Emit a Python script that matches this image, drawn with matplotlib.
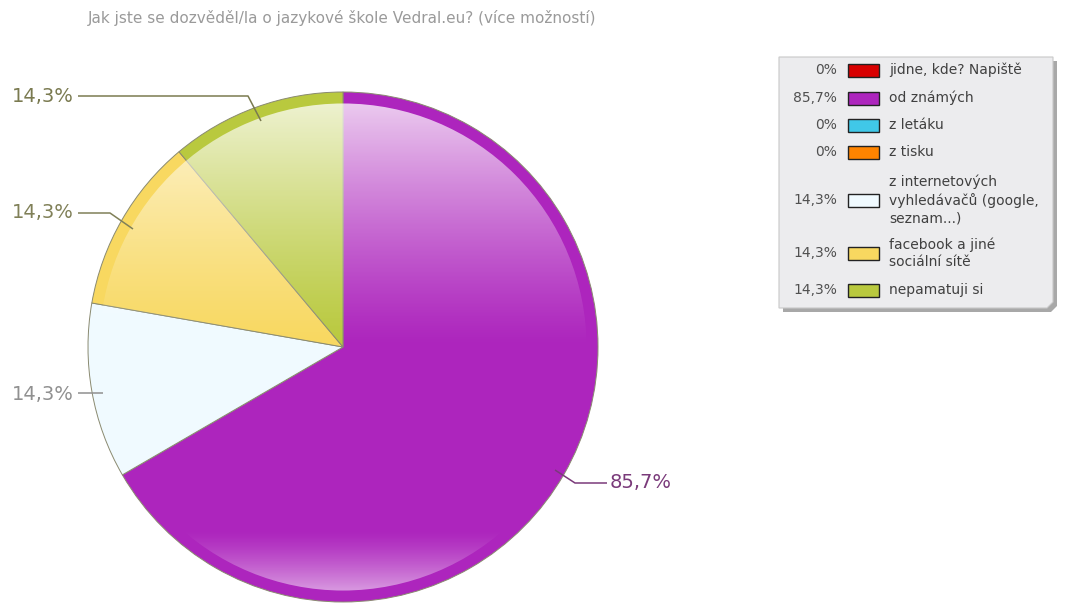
import numpy as np
import matplotlib
matplotlib.use('Agg')
import matplotlib.pyplot as plt
from matplotlib.patches import Circle, Rectangle, Polygon

plt.rcParams['font.family'] = ['DejaVu Sans']

# Survey data
title = 'Jak jste se dozvěděl/la o jazykové škole Vedral.eu? (více možností)'
answers = ['jidne, kde? Napiště', 'od známých', 'z letáku', 'z tisku',
           'z internetových\nvyhledávačů (google,\nseznam...)',
           'facebook a jiné\nsociální sítě', 'nepamatuji si']
percents = [0, 85.7, 0, 0, 14.3, 14.3, 14.3]
colors = ['#d80000', '#ad25bd', '#40c8e8', '#ff8400', '#f0faff', '#f8d860', '#b9c93e']
label_colors = ['#a00000', '#7a3a7a', '#40a0c0', '#c06000', '#909090', '#808058', '#7a7a50']


def fmt(v):
    if v == 0:
        return '0%'
    return ('%.1f%%' % v).replace('.', ',')


W, H = 1065, 603
fig = plt.figure(figsize=(W / 100, H / 100), dpi=100)
ax = fig.add_axes([0, 0, 1, 1])
ax.set_xlim(0, W)
ax.set_ylim(0, H)
ax.axis('off')

# pie geometry (pixels, y up)
cx, cy, r = 343, H - 347, 255

idx = [i for i, v in enumerate(percents) if v > 0]
vals = [percents[i] for i in idx]
cols = [colors[i] for i in idx]
wedges, _ = ax.pie(vals, colors=cols, startangle=90, counterclock=False,
                   center=(cx, cy), radius=r, frame=True,
                   wedgeprops=dict(edgecolor='#8a8a70', linewidth=0.7))
for w in wedges:
    w.set_zorder(2)

# glossy highlight overlay (light top, soft glow at bottom)
n = 400
yy = np.linspace(1, -1, n)[:, None] * np.ones((1, n))
top = np.clip((yy - 0.0) / 0.95, 0, 1) ** 1.2 * 0.75
bot = np.clip((-yy - 0.72) / 0.26, 0, 1) ** 1.3 * 0.6
rgba = np.ones((n, n, 4))
rgba[..., 3] = top + bot
im = ax.imshow(rgba, extent=[cx - r, cx + r, cy - r, cy + r], origin='upper',
               zorder=3, interpolation='bilinear')
im.set_clip_path(Circle((cx, cy), r * 0.955, transform=ax.transData))
ax.set_xlim(0, W)
ax.set_ylim(0, H)
ax.set_aspect('auto')

# slice labels with leader lines
fs_lab = 14
lab_specs = [
    (1, [(555, 470), (575, 483), (607, 483)], 610, 483, 'left'),
    (4, [(103, 393), (78, 393)], 74, 394, 'right'),
    (5, [(133, 229), (110, 213), (78, 213)], 74, 213, 'right'),
    (6, [(261, 121), (248, 96), (78, 96)], 74, 96, 'right'),
]
for i, pts, tx, ty, ha in lab_specs:
    xs = [p[0] for p in pts]
    ys = [H - p[1] for p in pts]
    ax.plot(xs, ys, color=label_colors[i], lw=1.1, zorder=5, solid_capstyle='butt')
    ax.text(tx, H - ty, fmt(percents[i]), color=label_colors[i], fontsize=fs_lab,
            ha=ha, va='center', zorder=5)

# title
ax.text(88, H - 18, title, color='#9a9a9a', fontsize=11, ha='left', va='center')

# legend box with shadow
bx0, bx1, by0, by1 = 779, 1053, 57, 308
sh = 4
ax.add_patch(Polygon([(bx0 + sh, H - by1), (bx1 - 6, H - by1), (bx1, H - by1 + 6),
                      (bx1, H - by0 - sh), (bx1 + sh, H - by0 - sh),
                      (bx1 + sh, H - by1 - sh + 6), (bx1 - 6 + sh, H - by1 - sh),
                      (bx0 + sh, H - by1 - sh)],
                     closed=True, facecolor='#a8a8a8', edgecolor='none', zorder=6))
ax.add_patch(Polygon([(bx0, H - by0), (bx1, H - by0), (bx1, H - by1 + 6),
                      (bx1 - 6, H - by1), (bx0, H - by1)], closed=True,
                     facecolor='#ececee', edgecolor='#c8c8c8', lw=0.8, zorder=7))

row_y = [70, 98, 125, 152, 200, 253, 290]
for k, (lab, v, c) in enumerate(zip(answers, percents, colors)):
    y = H - row_y[k]
    ax.text(837, y, fmt(v), fontsize=10, color='#505050', ha='right', va='center', zorder=8)
    ax.add_patch(Rectangle((848, y - 6.5), 31, 13, facecolor=c, edgecolor='#222222',
                           lw=1.0, zorder=8))
    ax.text(889, y, lab, fontsize=10, color='#404040', ha='left', va='center',
            linespacing=1.3, zorder=8)

fig.savefig('out.png', dpi=100)
